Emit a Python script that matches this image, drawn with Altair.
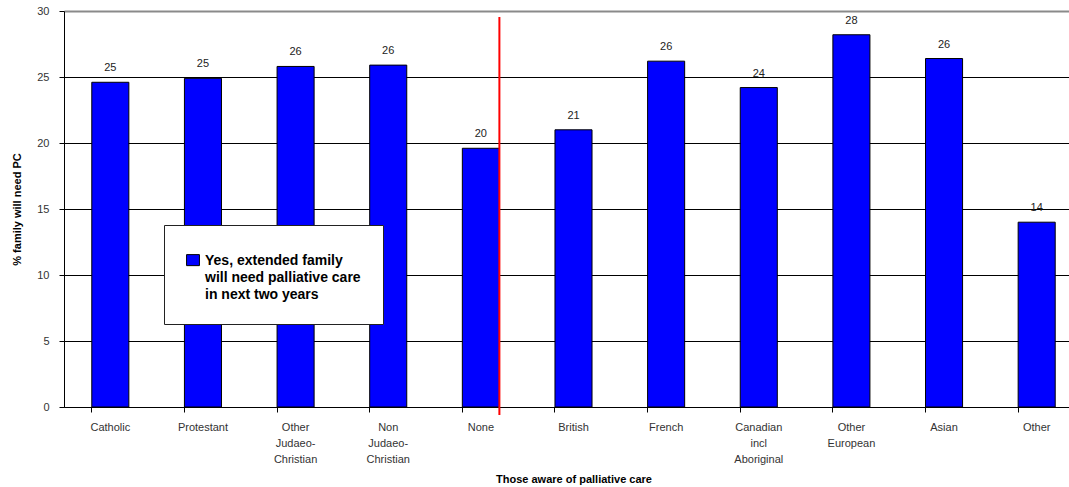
import altair as alt
import pandas as pd

# Share of respondents (aware of palliative care) whose extended family
# will need palliative care in the next two years, by religion and by origin.
categories = [
    "Catholic", "Protestant", "Other Judaeo-Christian", "Non Judaeo-Christian",
    "None", "British", "French", "Canadian incl Aboriginal", "Other European",
    "Asian", "Other",
]
tick_labels = [
    ["Catholic"], ["Protestant"], ["Other", "Judaeo-", "Christian"],
    ["Non", "Judaeo-", "Christian"], ["None"], ["British"], ["French"],
    ["Canadian", "incl", "Aboriginal"], ["Other", "European"], ["Asian"], ["Other"],
]
values = [24.6, 24.9, 25.8, 25.9, 19.6, 21.0, 26.2, 24.2, 28.2, 26.4, 14.0]
series_name = "Yes, extended family will need palliative care in next two years"
legend_lines = ["Yes, extended family", "will need palliative care", "in next two years"]

# Divider between the religion groups and the origin groups
divider_after = "None"
divider_top, divider_bottom = 29.55, -0.6

df = pd.DataFrame({"group": categories, "pct": values, "series": series_name})
divider = pd.DataFrame({"group": [divider_after], "top": [divider_top], "bottom": [divider_bottom]})

label_map = {c: l for c, l in zip(categories, tick_labels)}
label_expr = "{" + ", ".join(
    f'"{c}": [{", ".join(repr(s) for s in l)}]' for c, l in label_map.items()
) + "}[datum.value]"

legend_expr = "[" + ", ".join(repr(s) for s in legend_lines) + "]"

# Legend swatch: a square path dropped slightly so it sits beside the first label line
swatch_path = "M-1.05,0.1H1.05V1.9H-1.05Z"

FONT = "Liberation Sans"

x_scale = alt.Scale(domain=categories, range=[0, 1019], paddingInner=0.6, paddingOuter=0.3)
y_scale = alt.Scale(domain=[0, 30], nice=False, zero=True)

x_axis = alt.Axis(
    title="Those aware of palliative care",
    titleFont=FONT, titleFontSize=11, titleFontWeight="bold", titleColor="black",
    titlePadding=9,
    labelExpr=label_expr, labelFont=FONT, labelFontSize=11, labelColor="#333333",
    labelLineHeight=16, labelPadding=9, labelAngle=0,
    bandPosition=0, tickSize=5, tickColor="black", domainColor="black",
    labelOverlap=False,
)
y_axis = alt.Axis(
    title="% family will need PC",
    titleFont=FONT, titleFontSize=11, titleFontWeight="bold", titleColor="black",
    titlePadding=14,
    values=[0, 5, 10, 15, 20, 25, 30],
    labelFont=FONT, labelFontSize=11, labelColor="#333333", labelPadding=10,
    tickSize=5, tickColor="black", domainColor="black",
    grid=True,
    gridColor={"condition": {"test": "datum.value == 30", "value": "#8a8a8a"}, "value": "black"},
    gridWidth={"condition": {"test": "datum.value == 30", "value": 2}, "value": 1},
)

base = alt.Chart(df)

bars = base.mark_bar(stroke="black", strokeWidth=1).encode(
    x=alt.X("group:N", scale=x_scale, axis=x_axis, sort=categories),
    y=alt.Y("pct:Q", scale=y_scale, axis=y_axis),
    color=alt.Color(
        "series:N",
        scale=alt.Scale(range=["#0000ff"]),
        legend=alt.Legend(
            title=None, orient="none", legendX=100, legendY=214,
            fillColor="white", strokeColor="#222222", padding=22,
            labelExpr=legend_expr, labelFont=FONT, labelFontSize=14,
            labelFontWeight="bold", labelColor="black", labelLimit=0,
            labelBaseline="top", labelOffset=5,
            symbolType=swatch_path, symbolSize=150, symbolStrokeColor="black",
            symbolStrokeWidth=1, symbolFillColor="#0000ff",
        ),
    ),
)

labels = base.mark_text(
    baseline="bottom", dy=-9, font=FONT, fontSize=11, color="#222222"
).encode(
    x=alt.X("group:N", sort=categories),
    y="pct:Q",
    text=alt.Text("pct:Q", format=".0f"),
)

rule = alt.Chart(divider).mark_rule(color="#ff0000", strokeWidth=2).encode(
    x=alt.X("group:N", bandPosition=1),
    y="top:Q",
    y2="bottom:Q",
)

chart = (
    alt.layer(bars, labels, rule)
    .properties(
        width=1005,
        height=396,
        autosize=alt.AutoSizeParams(type="none"),
        padding={"left": 64, "top": 11, "right": 0, "bottom": 80},
        background="white",
    )
    .configure(style={"guide-label": {"lineHeight": 17}})
    .configure_view(strokeWidth=0)
)

chart.save("out.html", embed_options={"renderer": "svg", "actions": False})
